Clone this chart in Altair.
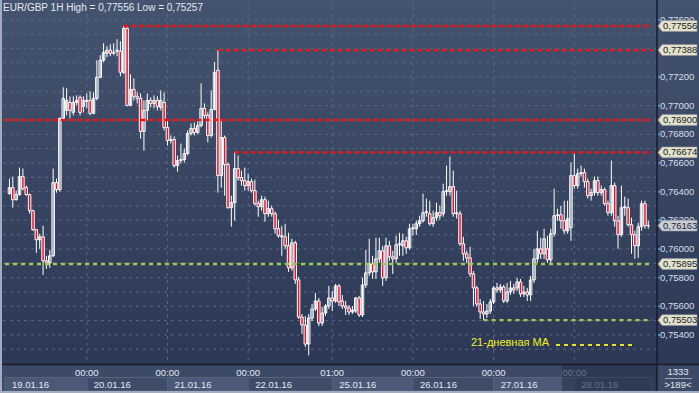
import altair as alt
import pandas as pd

# ---------------- data (EUR/GBP 1H candles) ----------------
opens = [
    0.76386, 0.76428, 0.76344, 0.76379, 0.76505, 0.76428, 0.76379, 0.76267, 0.76134, 0.76064,
    0.76085, 0.75917, 0.75903, 0.75952, 0.76463, 0.76414, 0.76911, 0.76967, 0.77023, 0.76953,
    0.77023, 0.77058, 0.76995, 0.77037, 0.77037, 0.76946, 0.77051, 0.77198, 0.77317, 0.77366,
    0.77387, 0.77366, 0.77380, 0.77380, 0.77233, 0.77540, 0.77002, 0.77114, 0.77065, 0.77051,
    0.76820, 0.76967, 0.77037, 0.77016, 0.77037, 0.76988, 0.77023, 0.76848, 0.76757, 0.76764,
    0.76582, 0.76617, 0.76624, 0.76666, 0.76806, 0.76841, 0.76813, 0.76862, 0.76981, 0.76932,
    0.76792, 0.76974, 0.77247, 0.76512, 0.76778, 0.76589, 0.76288, 0.76323, 0.76561, 0.76498,
    0.76477, 0.76442, 0.76470, 0.76407, 0.76316, 0.76295, 0.76344, 0.76246, 0.76281, 0.76246,
    0.76141, 0.76092, 0.76085, 0.76022, 0.75868, 0.76043, 0.75784, 0.75525, 0.75469, 0.75336,
    0.75518, 0.75581, 0.75637, 0.75483, 0.75553, 0.75602, 0.75658, 0.75637, 0.75742, 0.75637,
    0.75602, 0.75588, 0.75560, 0.75567, 0.75658, 0.75539, 0.75749, 0.75833, 0.75896, 0.75840,
    0.75931, 0.75987, 0.75798, 0.76022, 0.75945, 0.75931, 0.76029, 0.76022, 0.76057, 0.76008,
    0.76141, 0.76141, 0.76176, 0.76197, 0.76253, 0.76246, 0.76176, 0.76218, 0.76253, 0.76246,
    0.76400, 0.76400, 0.76435, 0.76246, 0.76246, 0.76036, 0.75966, 0.75938, 0.75826, 0.75728,
    0.75616, 0.75560, 0.75546, 0.75567, 0.75630, 0.75728, 0.75714, 0.75735, 0.75637, 0.75700,
    0.75728, 0.75728, 0.75770, 0.75686, 0.75700, 0.75679, 0.75784, 0.75931, 0.76001, 0.75966,
    0.76001, 0.75924, 0.76106, 0.76232, 0.76239, 0.76197, 0.76127, 0.76148, 0.76512, 0.76442,
    0.76526, 0.76533, 0.76470, 0.76372, 0.76393, 0.76477, 0.76393, 0.76414, 0.76316, 0.76253,
    0.76442, 0.76197, 0.76099, 0.76288, 0.76288, 0.76169, 0.76099, 0.76022, 0.76155, 0.76316,
    0.76162,
]
closes = [
    0.76428, 0.76344, 0.76379, 0.76505, 0.76421, 0.76379, 0.76267, 0.76134, 0.76064, 0.76085,
    0.75917, 0.75903, 0.75952, 0.76463, 0.76414, 0.76911, 0.77051, 0.77037, 0.76967, 0.77023,
    0.77037, 0.76953, 0.77037, 0.77030, 0.76946, 0.77051, 0.77198, 0.77317, 0.77373, 0.77387,
    0.77366, 0.77373, 0.77387, 0.77233, 0.77540, 0.77002, 0.77114, 0.77065, 0.77051, 0.76820,
    0.76967, 0.77037, 0.77016, 0.77037, 0.76995, 0.77037, 0.76848, 0.76757, 0.76764, 0.76582,
    0.76617, 0.76624, 0.76666, 0.76806, 0.76841, 0.76813, 0.76862, 0.76981, 0.76932, 0.76792,
    0.76974, 0.77233, 0.76512, 0.76778, 0.76589, 0.76288, 0.76323, 0.76561, 0.76498, 0.76477,
    0.76442, 0.76470, 0.76407, 0.76316, 0.76295, 0.76344, 0.76246, 0.76281, 0.76246, 0.76141,
    0.76092, 0.76085, 0.76022, 0.75868, 0.76043, 0.75784, 0.75525, 0.75469, 0.75336, 0.75518,
    0.75581, 0.75637, 0.75483, 0.75553, 0.75602, 0.75658, 0.75637, 0.75742, 0.75630, 0.75602,
    0.75588, 0.75560, 0.75574, 0.75658, 0.75539, 0.75749, 0.75833, 0.75896, 0.75840, 0.75931,
    0.75987, 0.75798, 0.76022, 0.75945, 0.75931, 0.76029, 0.76036, 0.76057, 0.76008, 0.76141,
    0.76148, 0.76176, 0.76197, 0.76253, 0.76260, 0.76176, 0.76218, 0.76253, 0.76232, 0.76400,
    0.76407, 0.76435, 0.76246, 0.76253, 0.76036, 0.75966, 0.75938, 0.75826, 0.75728, 0.75616,
    0.75560, 0.75546, 0.75567, 0.75630, 0.75728, 0.75714, 0.75735, 0.75637, 0.75700, 0.75728,
    0.75714, 0.75770, 0.75686, 0.75700, 0.75679, 0.75784, 0.75931, 0.76001, 0.75966, 0.76071,
    0.75924, 0.76106, 0.76232, 0.76239, 0.76197, 0.76127, 0.76211, 0.76512, 0.76442, 0.76526,
    0.76533, 0.76470, 0.76372, 0.76393, 0.76477, 0.76393, 0.76414, 0.76316, 0.76253, 0.76442,
    0.76197, 0.76099, 0.76288, 0.76295, 0.76169, 0.76099, 0.76022, 0.76155, 0.76316, 0.76162,
    0.76163,
]
highs = [
    0.76491, 0.76505, 0.76407, 0.76568, 0.76561, 0.76442, 0.76386, 0.76274, 0.76141, 0.76106,
    0.76162, 0.75952, 0.75994, 0.76561, 0.76491, 0.76918, 0.77128, 0.77121, 0.77065, 0.77065,
    0.77072, 0.77072, 0.77065, 0.77086, 0.77100, 0.77093, 0.77317, 0.77352, 0.77436, 0.77415,
    0.77429, 0.77436, 0.77464, 0.77450, 0.77556, 0.77548, 0.77219, 0.77191, 0.77093, 0.77086,
    0.77037, 0.77086, 0.77058, 0.77072, 0.77065, 0.77107, 0.77093, 0.76897, 0.76792, 0.76785,
    0.76652, 0.76736, 0.76701, 0.76827, 0.76876, 0.76883, 0.76897, 0.77156, 0.77016, 0.76953,
    0.77107, 0.77303, 0.77388, 0.76904, 0.76792, 0.76603, 0.76372, 0.76674, 0.76652, 0.76547,
    0.76568, 0.76526, 0.76491, 0.76484, 0.76337, 0.76372, 0.76365, 0.76337, 0.76302, 0.76260,
    0.76204, 0.76162, 0.76176, 0.76113, 0.76071, 0.76057, 0.75805, 0.75546, 0.75532, 0.75546,
    0.75616, 0.75693, 0.75658, 0.75595, 0.75616, 0.75742, 0.75707, 0.75756, 0.75756, 0.75679,
    0.75637, 0.75609, 0.75602, 0.75665, 0.75672, 0.75798, 0.75994, 0.76071, 0.75952, 0.76078,
    0.76078, 0.76022, 0.76078, 0.76057, 0.75987, 0.76092, 0.76113, 0.76106, 0.76085, 0.76176,
    0.76176, 0.76197, 0.76232, 0.76386, 0.76351, 0.76337, 0.76267, 0.76323, 0.76302, 0.76456,
    0.76582, 0.76645, 0.76547, 0.76407, 0.76267, 0.76085, 0.75987, 0.76015, 0.75847, 0.75742,
    0.75651, 0.75637, 0.75616, 0.75651, 0.75742, 0.75763, 0.75756, 0.75749, 0.75763, 0.75777,
    0.75756, 0.75798, 0.75791, 0.75742, 0.75728, 0.75812, 0.76001, 0.76127, 0.76078, 0.76141,
    0.76092, 0.76141, 0.76421, 0.76281, 0.76302, 0.76337, 0.76337, 0.76603, 0.76666, 0.76561,
    0.76582, 0.76561, 0.76491, 0.76421, 0.76505, 0.76505, 0.76442, 0.76428, 0.76337, 0.76617,
    0.76463, 0.76232, 0.76442, 0.76365, 0.76351, 0.76218, 0.76127, 0.76183, 0.76337, 0.76337,
    0.76197,
]
lows = [
    0.76379, 0.76288, 0.76337, 0.76372, 0.76407, 0.76372, 0.76246, 0.76127, 0.75973, 0.76001,
    0.75819, 0.75861, 0.75868, 0.75945, 0.76393, 0.76400, 0.76897, 0.76932, 0.76911, 0.76932,
    0.77002, 0.76932, 0.76953, 0.76981, 0.76932, 0.76939, 0.77037, 0.77191, 0.77303, 0.77338,
    0.77345, 0.77352, 0.77345, 0.77205, 0.77219, 0.76995, 0.76995, 0.77037, 0.77016, 0.76771,
    0.76687, 0.76897, 0.76988, 0.76981, 0.76967, 0.76967, 0.76827, 0.76722, 0.76736, 0.76568,
    0.76540, 0.76596, 0.76603, 0.76652, 0.76792, 0.76792, 0.76799, 0.76848, 0.76911, 0.76743,
    0.76778, 0.76967, 0.76393, 0.76428, 0.76372, 0.76281, 0.76155, 0.76197, 0.76477, 0.76442,
    0.76407, 0.76407, 0.76393, 0.76302, 0.76225, 0.76267, 0.76190, 0.76225, 0.76225, 0.76106,
    0.76078, 0.75952, 0.76001, 0.75840, 0.75847, 0.75756, 0.75511, 0.75406, 0.75315, 0.75257,
    0.75497, 0.75567, 0.75462, 0.75462, 0.75532, 0.75581, 0.75567, 0.75623, 0.75602, 0.75581,
    0.75539, 0.75539, 0.75546, 0.75553, 0.75525, 0.75525, 0.75728, 0.75812, 0.75791, 0.75791,
    0.75903, 0.75742, 0.75777, 0.75917, 0.75826, 0.75903, 0.75952, 0.75952, 0.75966, 0.75994,
    0.76092, 0.76099, 0.76155, 0.76183, 0.76225, 0.76162, 0.76155, 0.76197, 0.76204, 0.76225,
    0.76372, 0.76372, 0.76225, 0.76211, 0.76022, 0.75917, 0.75903, 0.75805, 0.75602, 0.75595,
    0.75511, 0.75503, 0.75518, 0.75546, 0.75616, 0.75693, 0.75693, 0.75623, 0.75623, 0.75679,
    0.75686, 0.75707, 0.75665, 0.75665, 0.75637, 0.75637, 0.75763, 0.75903, 0.75931, 0.75931,
    0.75903, 0.75903, 0.76085, 0.76197, 0.76141, 0.76106, 0.76106, 0.76057, 0.76421, 0.76421,
    0.76505, 0.76428, 0.76351, 0.76337, 0.76372, 0.76372, 0.76372, 0.76302, 0.76232, 0.76232,
    0.76155, 0.76001, 0.76085, 0.76232, 0.76155, 0.75966, 0.75931, 0.75938, 0.76127, 0.76141,
    0.76141,
]

# support / resistance levels and where (bar index) each starts
level_values = [0.77556, 0.77388, 0.76900, 0.76674, 0.75895, 0.75503]
level_start = [34, 62, -1.32, 67, -1.32, 141]
level_kind = ["res", "res", "res", "res", "sup", "sup"]

# price tags on the right axis
tag_values = [0.77556, 0.77388, 0.76900, 0.76674, 0.76163, 0.75895, 0.75503]
tag_text = ["0,77556", "0,77388", "0,76900", "0,76674", "0,76163", "0,75895", "0,75503"]
tag_kind = ["level", "level", "level", "level", "price", "level", "level"]

# axis labels (0,77400 lies fully under a price tag in the reference)
ytick_values = [0.776, 0.772, 0.770, 0.768, 0.766, 0.764, 0.762, 0.760, 0.758, 0.756, 0.754]
ytick_text = ["0,77600", "0,77200", "0,77000", "0,76800", "0,76600", "0,76400",
              "0,76200", "0,76000", "0,75800", "0,75600", "0,75400"]
grid_values = [0.753, 0.754, 0.755, 0.756, 0.757, 0.758, 0.759, 0.760, 0.761, 0.762, 0.763,
               0.764, 0.765, 0.766, 0.767, 0.768, 0.769, 0.770, 0.771, 0.772, 0.773, 0.774,
               0.775, 0.776]

day_start = [-1.32, 23, 47, 71, 96, 120, 144, 168]
day_labels = ["19.01.16", "20.01.16", "21.01.16", "22.01.16", "25.01.16", "26.01.16", "27.01.16", "28.01.16"]
day_shade = ["light", "dark", "light", "dark", "light", "dark", "light", "dark"]
day_tone = ["normal"] * 7 + ["dim"]
time_pos = [23, 47, 71, 96, 120, 144, 168]
time_labels = ["00:00", "00:00", "00:00", "01:00", "00:00", "00:00", "00:00"]
time_tone = ["normal"] * 6 + ["dim"]

TITLE = "EUR/GBP 1H High = 0,77556 Low = 0,75257"
LEGEND = "21-дневная MA"

# ---------------- tables ----------------
bar_index = list(range(len(closes)))
candles = pd.DataFrame({
    "i": bar_index, "open": opens, "high": highs, "low": lows, "close": closes,
    "dir": ["up" if c >= o else "down" for o, c in zip(opens, closes)],
})
X_MIN, X_MAX = -1.32, 191.1
levels = pd.DataFrame({"v": level_values, "start": level_start, "end": [X_MAX] * 6, "kind": level_kind})
tags = pd.DataFrame({"v": tag_values, "t": tag_text, "kind": tag_kind})
yt = pd.DataFrame({"v": ytick_values, "t": ytick_text})
gr = pd.DataFrame({"v": grid_values})
days = pd.DataFrame({"start": day_start, "end": day_start[1:] + [X_MAX], "label": day_labels,
                     "shade": day_shade, "tone": day_tone})
times = pd.DataFrame({"pos": time_pos, "label": time_labels, "tone": time_tone})
one = alt.Data(values=[{"a": 1}])

xs = alt.Scale(domain=[X_MIN, X_MAX], nice=False, zero=False)
ys = alt.Scale(domain=[0.75197, 0.777375], nice=False, zero=False)
FONT = "Liberation Sans"

# ---------------- layers ----------------
bg = alt.Chart(one).mark_rect(
    fill=alt.Gradient(gradient="linear", x1=0, x2=0, y1=0, y2=1,
                      stops=[alt.GradientStop(offset=0, color="#44536f"),
                             alt.GradientStop(offset=1, color="#2c3855")])
).encode(x=alt.value(0), x2=alt.value(699), y=alt.value(0), y2=alt.value(364))

bottom = alt.Chart(one).mark_rect(fill="#3d4a67").encode(
    x=alt.value(0), x2=alt.value(699), y=alt.value(364), y2=alt.value(393))


def day_boxes(shade, color):
    return alt.Chart(days).transform_filter(alt.datum.shade == shade).mark_rect(
        stroke="#56637e", strokeWidth=1, fill=color).encode(
        x=alt.X("start:Q", scale=xs, axis=None), x2="end:Q",
        y=alt.value(377.5), y2=alt.value(391))


def day_text(tone, color):
    return alt.Chart(days).transform_filter(alt.datum.tone == tone).mark_text(
        align="left", baseline="middle", dx=7, fontSize=9.5, font=FONT, color=color).encode(
        x=alt.X("start:Q", scale=xs, axis=None), y=alt.value(384.5), text="label:N")


def time_text(tone, color):
    return alt.Chart(times).transform_filter(alt.datum.tone == tone).mark_text(
        align="center", baseline="middle", fontSize=9.5, font=FONT, color=color).encode(
        x=alt.X("pos:Q", scale=xs, axis=None), y=alt.value(373), text="label:N")


overlay = alt.Chart(one).mark_rect(fill="#1d263c", opacity=0.45).encode(
    x=alt.value(562), x2=alt.value(657), y=alt.value(365), y2=alt.value(393))

hgrid = alt.Chart(gr).mark_rule(color="#5a6884", strokeWidth=1, strokeDash=[3, 4]).encode(
    y=alt.Y("v:Q", scale=ys, axis=None))
vgrid = alt.Chart(times).mark_rule(color="#5a6884", strokeWidth=1, strokeDash=[3, 4]).encode(
    x=alt.X("pos:Q", scale=xs, axis=None), y=alt.value(0), y2=alt.value(364))

wicks = alt.Chart(candles).mark_rule(color="#ffffff", strokeWidth=1).encode(
    x=alt.X("i:Q", scale=xs, axis=None),
    y=alt.Y("low:Q", scale=ys, axis=None), y2="high:Q")


def body(direction, fill, opacity):
    return alt.Chart(candles).transform_filter(alt.datum.dir == direction).mark_bar(
        width=2.5, stroke="#ffffff", strokeWidth=1, fill=fill, fillOpacity=opacity).encode(
        x=alt.X("i:Q", scale=xs, axis=None),
        y=alt.Y("open:Q", scale=ys, axis=None), y2="close:Q")


def level_line(kind, color, dash):
    return alt.Chart(levels).transform_filter(alt.datum.kind == kind).mark_rule(
        strokeWidth=2.4, strokeDash=dash, color=color).encode(
        x=alt.X("start:Q", scale=xs, axis=None), x2="end:Q",
        y=alt.Y("v:Q", scale=ys, axis=None))


legend_text = alt.Chart(one).mark_text(align="left", baseline="middle", fontSize=11, font=FONT,
                                       color="#f2f21c").encode(
    x=alt.value(471), y=alt.value(343), text=alt.value(LEGEND))
legend_line = alt.Chart(one).mark_rule(color="#e6e625", strokeWidth=2.2, strokeDash=[4, 4]).encode(
    x=alt.value(556), x2=alt.value(634), y=alt.value(345))

sep_h = alt.Chart(one).mark_rule(color="#161c28", strokeWidth=1.5).encode(
    x=alt.value(0), x2=alt.value(699), y=alt.value(364.5))
sep_v = alt.Chart(one).mark_rule(color="#161c28", strokeWidth=1.5).encode(
    x=alt.value(657), y=alt.value(0), y2=alt.value(393))

blue_ticks = alt.Chart(yt).mark_rule(color="#3b8de0", strokeWidth=2).encode(
    x=alt.value(658), x2=alt.value(660), y=alt.Y("v:Q", scale=ys, axis=None))

ylabels = alt.Chart(yt).mark_text(align="left", baseline="middle", fontSize=9.5, font=FONT,
                                  color="#d8dfeb").encode(
    x=alt.value(660), y=alt.Y("v:Q", scale=ys, axis=None), text="t:N")

tag_shape = "M-1,0 L-0.79,-0.28 L1,-0.28 L1,0.28 L-0.79,0.28 Z"


def tag_box(kind, color):
    return alt.Chart(tags).transform_filter(alt.datum.kind == kind).mark_point(
        shape=tag_shape, size=1521, filled=True, opacity=1, fill=color,
        stroke="#8a8f98", strokeWidth=0.6).encode(
        x=alt.value(677.5), y=alt.Y("v:Q", scale=ys, axis=None))


tag_label = alt.Chart(tags).mark_text(align="left", baseline="middle", fontSize=9.5, font=FONT,
                                      color="#1a1e28").encode(
    x=alt.value(663), y=alt.Y("v:Q", scale=ys, axis=None), text="t:N")

title = alt.Chart(one).mark_text(align="left", baseline="middle", fontSize=10, font=FONT,
                                 color="#e6eaf2").encode(
    x=alt.value(3), y=alt.value(8), text=alt.value(TITLE))

br1 = alt.Chart(one).mark_text(align="center", baseline="middle", fontSize=9.5, font=FONT,
                               color="#e4e9f2").encode(x=alt.value(678), y=alt.value(372), text=alt.value("1333"))
br_line = alt.Chart(one).mark_rule(color="#9aa4b8", strokeWidth=1).encode(
    x=alt.value(665), x2=alt.value(692), y=alt.value(378.5))
br2 = alt.Chart(one).mark_text(align="center", baseline="middle", fontSize=9.5, font=FONT,
                               color="#e4e9f2").encode(x=alt.value(678), y=alt.value(385), text=alt.value(">189<"))

frame_l = alt.Chart(one).mark_rule(color="#a3acbd", strokeWidth=2).encode(
    x=alt.value(1), y=alt.value(0), y2=alt.value(393))
frame_b = alt.Chart(one).mark_rule(color="#a3acbd", strokeWidth=2).encode(
    x=alt.value(0), x2=alt.value(699), y=alt.value(392))

chart = alt.layer(
    bg, bottom,
    day_boxes("light", "#4b5877"), day_boxes("dark", "#3f4c69"),
    overlay,
    day_text("normal", "#e4e9f2"), day_text("dim", "#66728c"),
    time_text("normal", "#e4e9f2"), time_text("dim", "#66728c"),
    hgrid, vgrid, wicks,
    body("down", "#f0102a", 1), body("up", "#2f3b58", 0),
    level_line("res", "#ff1010", [4.5, 3.5]), level_line("sup", "#9ccc50", [4, 4]),
    legend_text, legend_line, sep_h, sep_v, blue_ticks, ylabels,
    tag_box("level", "#e2e2cc"), tag_box("price", "#c9cdd6"), tag_label,
    title, br1, br_line, br2, frame_l, frame_b,
).properties(
    width=657, height=364,
    padding={"left": 0, "top": 0, "right": 42, "bottom": 29},
    autosize=alt.AutoSizeParams(type="none"),
    background="#3a4866",
).configure_view(stroke=None)

chart.save("out.html", embed_options={"renderer": "svg", "actions": False})
